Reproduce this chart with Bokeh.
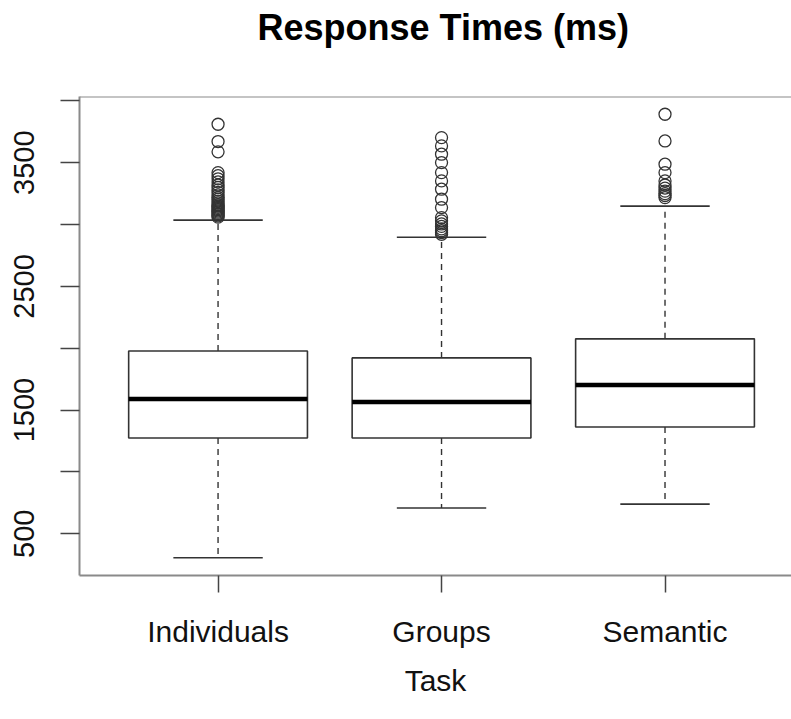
from bokeh.plotting import figure
from bokeh.models import Range1d, FixedTicker, Span, ColumnDataSource, Title
from bokeh.embed import file_html
from bokeh.resources import INLINE

# ---- data ----
categories = ["Individuals", "Groups", "Semantic"]
positions = [1, 2, 3]
lower_whisker = [306, 708, 740]
q1 = [1274, 1274, 1363]
median = [1590, 1566, 1703]
q3 = [1978, 1922, 2076]
upper_whisker = [3036, 2898, 3149]

outliers_individuals = [3811, 3671, 3588, 3420, 3395, 3370, 3345, 3320, 3300,
                        3280, 3260, 3240, 3220, 3205, 3190, 3175, 3160, 3150,
                        3140, 3130, 3120, 3110, 3100, 3090, 3080, 3070, 3060]
outliers_groups = [3703, 3636, 3569, 3501, 3420, 3353, 3286, 3205, 3137,
                   3056, 3030, 3005, 2985, 2965, 2950, 2935, 2921]
outliers_semantic = [3892, 3676, 3488, 3420, 3353, 3320, 3295, 3270, 3250,
                     3235, 3218]

ytick_values = [500, 1000, 1500, 2000, 2500, 3000, 3500, 4000]
ytick_labels = ["500", "", "1500", "", "2500", "", "3500", ""]

title_text = "Response Times (ms)"
xlabel_text = "Task"

# ---- derived ranges (R style: 4% padding) ----
all_vals = lower_whisker + upper_whisker + outliers_individuals + outliers_groups + outliers_semantic
lo, hi = min(all_vals), max(all_vals)
pad = 0.04 * (hi - lo)
y_lo, y_hi = lo - pad, hi + pad

FONT = "Liberation Sans"
BOX_W = 0.8
CAP_W = 0.4
DARK = "#333333"
FRAME = "#8a8a8a"

p = figure(width=791, height=719, output_backend="svg", toolbar_location=None,
           x_range=Range1d(0.38, 3.566), y_range=Range1d(y_lo, y_hi),
           min_border_left=79, min_border_right=0, min_border_top=96,
           min_border_bottom=144)
p.outline_line_color = None
p.xgrid.visible = False
p.ygrid.visible = False
p.background_fill_color = "white"
p.border_fill_color = "white"

# title: a spacer next to the frame, then the real title further out
spacer = Title(text=" ", text_font_size="1px", standoff=46)
p.add_layout(spacer, "above")
main_title = Title(text=title_text, text_font=FONT, text_font_style="bold",
                   text_font_size="36px", text_color="black",
                   align="left", offset=178, standoff=0)
p.add_layout(main_title, "above")

# boxes
src = ColumnDataSource(dict(
    x=positions,
    left=[x - BOX_W / 2 for x in positions],
    right=[x + BOX_W / 2 for x in positions],
    capl=[x - CAP_W / 2 for x in positions],
    capr=[x + CAP_W / 2 for x in positions],
    lw=lower_whisker, q1=q1, med=median, q3=q3, uw=upper_whisker,
))

p.segment(x0="x", y0="q3", x1="x", y1="uw", source=src, line_color=DARK,
          line_width=1.4, line_dash="6 5")
p.segment(x0="x", y0="q1", x1="x", y1="lw", source=src, line_color=DARK,
          line_width=1.4, line_dash="6 5")
p.segment(x0="capl", y0="uw", x1="capr", y1="uw", source=src, line_color=DARK, line_width=1.6)
p.segment(x0="capl", y0="lw", x1="capr", y1="lw", source=src, line_color=DARK, line_width=1.6)
p.quad(left="left", right="right", bottom="q1", top="q3", source=src,
       fill_color="white", line_color=DARK, line_width=1.6)
p.segment(x0="left", y0="med", x1="right", y1="med", source=src,
          line_color="black", line_width=4.5)

# outliers
ox, oy = [], []
for pos, vals in zip(positions, [outliers_individuals, outliers_groups, outliers_semantic]):
    ox += [pos] * len(vals)
    oy += vals
p.scatter(ox, oy, marker="circle", size=12, fill_color=None, line_color=DARK, line_width=1.3)

# top frame line
p.add_layout(Span(location=y_hi, dimension="width", line_color=FRAME, line_width=2))

# axes
p.xaxis.ticker = FixedTicker(ticks=positions)
p.xaxis.major_label_overrides = {pos: c for pos, c in zip(positions, categories)}
p.xaxis.minor_tick_line_color = None
p.xaxis.major_tick_in = 0
p.xaxis.major_tick_out = 17
p.xaxis.major_tick_line_color = "#444444"
p.xaxis.major_tick_line_width = 1.5
p.xaxis.axis_line_color = FRAME
p.xaxis.axis_line_width = 2
p.xaxis.major_label_text_font = FONT
p.xaxis.major_label_text_font_size = "30px"
p.xaxis.major_label_text_color = "#111111"
p.xaxis.major_label_standoff = 22
p.xaxis.axis_label = xlabel_text
p.xaxis.axis_label_text_font = FONT
p.xaxis.axis_label_text_font_style = "normal"
p.xaxis.axis_label_text_font_size = "30px"
p.xaxis.axis_label_text_color = "#111111"
p.xaxis.axis_label_standoff = 13

p.yaxis.ticker = FixedTicker(ticks=ytick_values)
p.yaxis.major_label_overrides = {v: l for v, l in zip(ytick_values, ytick_labels)}
p.yaxis.minor_tick_line_color = None
p.yaxis.major_tick_in = 0
p.yaxis.major_tick_out = 19
p.yaxis.major_tick_line_color = "#444444"
p.yaxis.major_tick_line_width = 1.5
p.yaxis.axis_line_color = FRAME
p.yaxis.axis_line_width = 2
p.yaxis.major_label_orientation = "vertical"
p.yaxis.major_label_text_font = FONT
p.yaxis.major_label_text_font_size = "29px"
p.yaxis.major_label_text_color = "#111111"
p.yaxis.major_label_standoff = 26

open("out.html", "w").write(file_html(p, INLINE))
